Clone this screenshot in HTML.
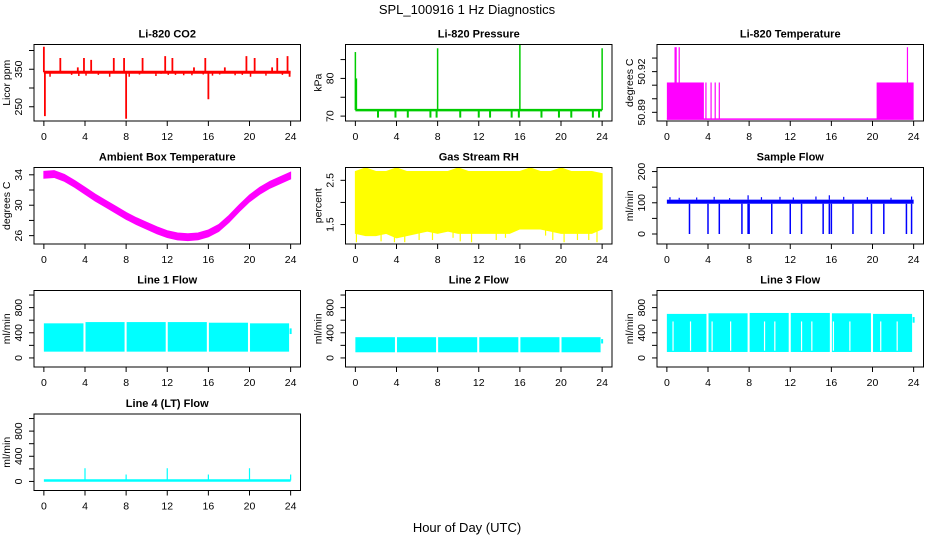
<!DOCTYPE html>
<html><head><meta charset="utf-8"><style>
html,body{margin:0;padding:0;background:#fff;}
svg{display:block;font-family:"Liberation Sans",Arial,sans-serif;}
</style></head><body>
<svg id="chart" width="936" height="540" viewBox="0 0 936 540" xmlns="http://www.w3.org/2000/svg">
<rect width="936" height="540" fill="#fff"/>
<text x="467" y="14" font-size="13" text-anchor="middle">SPL_100916  1 Hz Diagnostics</text>
<text x="467" y="532" font-size="13" text-anchor="middle">Hour of Day (UTC)</text>
</svg>
<script>
// ---- data ----
const xTicks = [0,4,8,12,16,20,24];
const hours = [0,1,2,3,4,5,6,7,8,9,10,11,12,13,14,15,16,17,18,19,20,21,22,23,24];
// CO2
const co2Base = 342;
const co2SpikeX = [0,0.1,1.6,3.3,3.9,4.6,6.8,7.8,8.0,9.6,11.8,12.5,14.6,15.7,16.0,17.6,19.7,20.5,22.2,22.7,23.7,23.9];
const co2SpikeV = [410,225,380,355,380,375,380,380,218,380,385,380,355,380,270,355,385,380,355,380,385,330];
const co2DipX = [0.6,2.7,3.4,4.1,5.3,6.4,8.3,9.3,10.9,11.4,12.1,12.8,13.6,14.4,15.5,16.4,17.1,18.6,19.3,20.1,21.6,23.2];
const co2DipV = [330,335,332,333,335,330,330,336,332,338,335,335,334,334,336,333,336,334,335,330,333,335];
// Pressure
const presBase = 71.6;
const presDipX = [2.2,3.9,5.1,7.3,7.9,10.2,12,13.1,15.2,15.9,18.1,19.8,21,23.1,23.7];
const presSpikeX = [0,0.1,8,16,24];
const presSpikeV = [87,80,88,89,88];
// Li-820 temperature
const tempBase = 50.885;
const tempBlockStart = [0,20.4];
const tempBlockEnd = [3.6,24];
const tempBlockTop = 50.912;
const tempSpikeX = [0.8,0.9,1.2,3.8,4.3,4.7,5.1,23.4];
const tempSpikeV = [50.938,50.938,50.938,50.912,50.912,50.912,50.912,50.938];
// Ambient box temperature (hourly center)
const ambient = [34,34.1,33.6,32.8,31.9,31.0,30.2,29.4,28.6,27.9,27.3,26.7,26.2,25.9,25.8,25.9,26.3,27.0,28.2,29.6,30.9,31.9,32.7,33.3,33.9];
const ambientHalfBand = 0.45;
// Gas stream RH (hourly envelope)
const rhHigh = [2.7,2.78,2.7,2.7,2.78,2.7,2.7,2.7,2.7,2.7,2.78,2.7,2.7,2.7,2.7,2.7,2.7,2.78,2.7,2.7,2.78,2.7,2.7,2.7,2.65];
const rhLow = [1.3,1.25,1.25,1.3,1.2,1.25,1.3,1.35,1.3,1.35,1.3,1.3,1.3,1.3,1.3,1.3,1.4,1.4,1.4,1.35,1.3,1.3,1.3,1.3,1.4];
const rhSpikeX = [0.1,2.5,3.8,4.8,6.2,7.5,9.5,10.2,11.3,13.7,14.6,18.5,19.2,20.3,21.6,22.7,23.5];
const rhSpikeV = [1.1,1.12,1.1,1.1,1.15,1.15,1.2,1.12,1.1,1.15,1.2,1.25,1.15,1.1,1.15,1.15,1.1];
// Sample flow
const sfLow = 97;
const sfHigh = 110;
const sfTopX = [0.3,1.2,2.9,4.6,6.1,7.9,9.2,11.0,12.3,14.5,15.8,17.2,19.5,21.8,23.8];
const sfTopV = [118,116,117,119,115,124,118,119,117,120,124,119,118,116,120];
const sfDipX = [2.2,4.0,5.1,7.3,7.9,8.0,10.2,12.0,13.1,15.2,15.8,16.0,18.1,19.9,21.1,23.3,23.8];
// Line flows
const flowBlockStart = [0,4.05,8.05,12.05,16.05,20.05];
const flowBlockEnd = [3.85,7.85,11.85,15.85,19.85,23.85];
const line1High = [550,570,570,570,560,550];
const line1Low = 100;
const line2High = [330,330,330,330,330,330];
const line2Low = 90;
const line3High = [700,710,715,715,710,700];
const line3Low = 95;
const line3Gaps = [0.6,2.3,4.4,6.2,9.5,10.5,13.1,14.1,16.2,17.8,20.8,22.4];
const line4Base = 15;
const line4SpikeX = [4,8,12,16,20,24];
const line4SpikeV = [210,110,210,110,210,110];

// ---- layout ----
const svg = document.getElementById('chart');
const NS = 'http://www.w3.org/2000/svg';
const cols = [34,345.5,657];
const rows = [44.5,167.5,290.5,414];
const W = 266.5, H = 76.5;
function el(tag, attrs, parent){
  const e = document.createElementNS(NS, tag);
  for (const k in attrs) e.setAttribute(k, attrs[k]);
  (parent||svg).appendChild(e);
  return e;
}
function panel(ci, ri, title, ylab, ymin, ymax, yTicks, yLabels, name){
  const L = cols[ci], T = rows[ri];
  const g = el('g', {});
  
  
  const xs = v => L + (v + 0.96) / 25.92 * W;
  const ys = v => T + H - (v - ymin) / (ymax - ymin) * H;
  const t = el('text', {x: L + W/2, y: T - 7, 'font-size': 11, 'font-weight': 'bold', 'text-anchor': 'middle'}, g);
  t.textContent = title;
  
  
  const plot = el('g', {}, g);
  
  
  const axes = el('g', {stroke: '#000', 'stroke-width': 1, fill: 'none'}, g);
  
  
  el('rect', {x: L, y: T, width: W, height: H}, axes);
  const B = T + H;
  el('line', {x1: xs(xTicks[0]), x2: xs(xTicks[xTicks.length-1]), y1: B, y2: B}, axes);
  xTicks.forEach(v => {
    el('line', {x1: xs(v), x2: xs(v), y1: B, y2: B + 5}, axes);
    const lb = el('text', {x: xs(v), y: B + 19, 'font-size': 10.5, 'text-anchor': 'middle', fill: '#000', stroke: 'none'}, g);
    lb.textContent = v;
    
    
  });
  el('line', {x1: L, x2: L, y1: ys(yTicks[0]), y2: ys(yTicks[yTicks.length-1])}, axes);
  yTicks.forEach(v => {
    el('line', {x1: L - 5, x2: L, y1: ys(v), y2: ys(v)}, axes);
  });
  yLabels.forEach(v => {
    const lb = el('text', {x: 0, y: 0, 'font-size': 10.5, 'text-anchor': 'middle', transform: `translate(${L - 12},${ys(v)}) rotate(-90)`}, g);
    lb.textContent = v;
    
    
  });
  const yl = el('text', {x: 0, y: 0, 'font-size': 10.5, 'text-anchor': 'middle', transform: `translate(${L - 24},${T + H/2}) rotate(-90)`}, g);
  yl.textContent = ylab;
  
  
  return {xs, ys, g: plot};
}
function vline(p, x, y1, y2, color, w){
  el('line', {x1: p.xs(x), x2: p.xs(x), y1: p.ys(y1), y2: p.ys(y2), stroke: color, 'stroke-width': w||1}, p.g);
}
function hline(p, x1, x2, y, color, w){
  el('line', {x1: p.xs(x1), x2: p.xs(x2), y1: p.ys(y), y2: p.ys(y), stroke: color, 'stroke-width': w||1}, p.g);
}
function rectD(p, x1, x2, y1, y2, color){
  el('rect', {x: p.xs(x1), width: p.xs(x2) - p.xs(x1), y: p.ys(y2), height: p.ys(y1) - p.ys(y2), fill: color}, p.g);
}

// CO2
let p = panel(0,0,'Li-820 CO2','Licor ppm',212,416,[250,300,350,400],[250,350],'co2-panel');
hline(p,0,24,co2Base,'#f00',3);
co2SpikeX.forEach((x,i)=>vline(p,x,co2Base,co2SpikeV[i],'#f00',1.8));
co2DipX.forEach((x,i)=>vline(p,x,co2Base,co2DipV[i],'#f00',1.5));

// Pressure
p = panel(1,0,'Li-820 Pressure','kPa',68.7,89,[70,75,80,85],[70,80],'pressure-panel');
hline(p,0,24,presBase,'#0c0',2.5);
presDipX.forEach(x=>vline(p,x,presBase,69.6,'#0c0',2));
presSpikeX.forEach((x,i)=>vline(p,x,presBase,presSpikeV[i],'#0c0',1.5));

// Li-820 temperature
p = panel(2,0,'Li-820 Temperature','degrees C',50.8836,50.940,[50.89,50.90,50.91,50.92,50.93],[50.89,50.92],'li820-temperature-panel');
hline(p,0,24,tempBase,'#f0f',1.5);
tempBlockStart.forEach((s,i)=>rectD(p,s,tempBlockEnd[i],tempBase,tempBlockTop,'#f0f'));
tempSpikeX.forEach((x,i)=>vline(p,x,tempBase,tempSpikeV[i],'#f0f',1.2));

// Ambient
p = panel(0,1,'Ambient Box Temperature','degrees C',24.9,34.96,[26,28,30,32,34],[26,30,34],'ambient-temperature-panel');
{
  let d = hours.map((h,i)=>`${i?'L':'M'}${p.xs(h)},${p.ys(ambient[i]+ambientHalfBand)}`).join('');
  d += hours.slice().reverse().map((h,j)=>{const i=hours.length-1-j;return `L${p.xs(h)},${p.ys(ambient[i]-ambientHalfBand)}`;}).join('') + 'Z';
  el('path',{d, fill:'#f0f', stroke:'#f0f', 'stroke-width':1}, p.g);
}

// RH
p = panel(1,1,'Gas Stream RH','percent',1.06,2.79,[1.5,2.0,2.5],[1.5,2.5],'rh-panel');
{
  let d = hours.map((h,i)=>`${i?'L':'M'}${p.xs(h)},${p.ys(rhHigh[i])}`).join('');
  d += hours.slice().reverse().map((h,j)=>{const i=hours.length-1-j;return `L${p.xs(h)},${p.ys(rhLow[i])}`;}).join('') + 'Z';
  el('path',{d, fill:'#ff0', stroke:'#ff0', 'stroke-width':1}, p.g);
  rhSpikeX.forEach((x,i)=>vline(p,x,1.8,rhSpikeV[i],'#ff0',1.2));
}

// Sample flow
p = panel(2,1,'Sample Flow','ml/min',-32,213,[0,50,100,150,200],[0,100,200],'sample-flow-panel');
rectD(p,0,24,sfLow,sfHigh,'#00f');
sfTopX.forEach((x,i)=>vline(p,x,sfHigh,sfTopV[i],'#00f',1.2));
sfDipX.forEach(x=>vline(p,x,sfLow,0,'#00f',1.5));

// Line flows
function flowPanel(ci,ri,title,name,highs,low,color){
  const q = panel(ci,ri,title,'ml/min',-144,1072,[0,200,400,600,800,1000],[0,400,800],name);
  flowBlockStart.forEach((s,i)=>rectD(q,s,flowBlockEnd[i],low,highs[i],color));
  return q;
}
p = flowPanel(0,2,'Line 1 Flow','line1-flow-panel',line1High,line1Low,'#0ff');
vline(p,24,380,470,'#0ff',2);
p = flowPanel(1,2,'Line 2 Flow','line2-flow-panel',line2High,line2Low,'#0ff');
vline(p,24,230,300,'#0ff',2);
p = flowPanel(2,2,'Line 3 Flow','line3-flow-panel',line3High,line3Low,'#0ff');
vline(p,24,560,650,'#0ff',2);
line3Gaps.forEach(x=>vline(p,x,line3Low+20,580,'#fff',1.2));

// Line 4
p = panel(0,3,'Line 4 (LT) Flow','ml/min',-144,1072,[0,200,400,600,800,1000],[0,400,800],'line4-flow-panel');
hline(p,0,24,line4Base,'#0ff',2.5);
line4SpikeX.forEach((x,i)=>vline(p,x,line4Base,line4SpikeV[i],'#0ff',1.2));
</script>
</body></html>
